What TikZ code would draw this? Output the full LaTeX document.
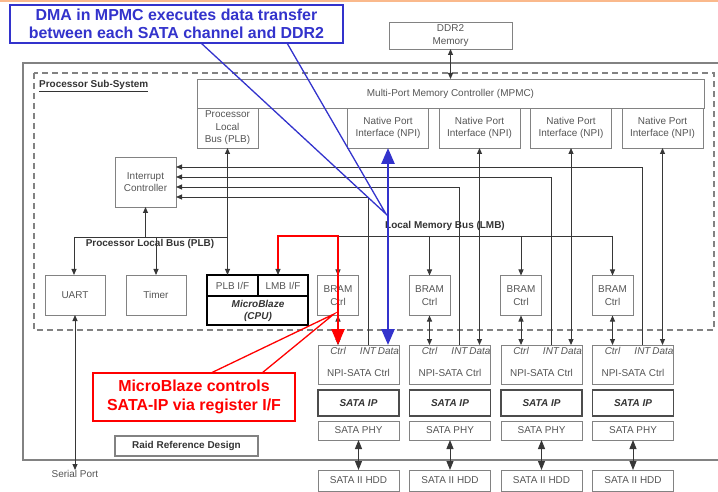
\documentclass[tikz,border=0pt]{standalone}
\usepackage{fontspec}
\setmainfont{Liberation Sans}
\usetikzlibrary{arrows.meta,calc}

\definecolor{boxgray}{RGB}{130,130,130}
\definecolor{txtgray}{RGB}{85,85,85}
\definecolor{linegray}{RGB}{55,55,55}
\definecolor{calloutblue}{RGB}{51,51,204}
\definecolor{calloutred}{RGB}{255,0,0}
\definecolor{toporange}{RGB}{250,185,140}

\tikzset{
  >={Triangle[width=5bp,length=6bp]},
  blk/.style={draw=boxgray, line width=0.9bp, text=txtgray, align=center,
    inner sep=0pt, outer sep=0pt, font=\fontsize{10}{12.5}\selectfont},
  npibox/.style={blk, minimum width=81bp, minimum height=40bp},
  brambox/.style={blk, minimum width=41bp, minimum height=40bp},
  chanbox/.style={blk, minimum width=81bp},
  ipbox/.style={chanbox, draw=black!70, line width=1.6bp, minimum height=26bp,
    text=black!80, font=\fontsize{10}{12}\selectfont\bfseries\itshape},
  tag/.style={text=txtgray, inner sep=0pt, font=\fontsize{10}{12}\selectfont\itshape},
  boldtxt/.style={text=black!80, inner sep=1bp, font=\fontsize{10}{12}\selectfont\bfseries},
  bus/.style={draw=linegray, line width=0.9bp},
  sig/.style={bus, ->},
  bisig/.style={bus, <->},
  hddlink/.style={bus, {Triangle[width=7bp,length=9bp]}-{Triangle[width=7bp,length=9bp]}},
  bluenote/.style={draw=calloutblue, line width=1.6bp, fill=white, text=calloutblue, align=center,
    inner sep=0pt, outer sep=0pt, font=\fontsize{16}{18}\selectfont\bfseries},
  rednote/.style={bluenote, draw=calloutred, text=calloutred, font=\fontsize{16}{19}\selectfont\bfseries},
}

\begin{document}
\begin{tikzpicture}[x=1bp,y=-1bp]
%%%%% START %%%%%
\useasboundingbox (0,0) rectangle (718,492);
\draw[toporange, line width=2bp] (0,1) -- (718,1);

% frames
\draw[boxgray, line width=1.2bp] (718,63) -- (23,63) -- (23,460) -- (718,460);
\draw[boxgray, line width=1.2bp, dash pattern=on 6bp off 4bp] (34,73) rectangle (714,330);
\node[boldtxt, anchor=west] (subsys) at (38,86) {\underline{Processor Sub-System}};
\node[boldtxt, draw=boxgray, line width=1.2bp, minimum width=143bp, minimum height=20bp] (raid) at (186.5,446) {Raid Reference Design};

% memory side
\node[blk, minimum width=123bp, minimum height=27bp] (ddr) at (450.5,35.5) {DDR2\\Memory};
\node[blk, minimum width=507bp, minimum height=29bp] (mpmc) at (450.5,93.5) {Multi-Port Memory Controller (MPMC)};
\node[blk, minimum width=61bp, minimum height=40bp] (plbport) at (227.5,128) {Processor\\Local\\Bus (PLB)};
\node[npibox] (npiA) at (388,128) {Native Port\\Interface (NPI)};
\node[npibox] (npiB) at (479.5,128) {Native Port\\Interface (NPI)};
\node[npibox] (npiC) at (571,128) {Native Port\\Interface (NPI)};
\node[npibox] (npiD) at (662.5,128) {Native Port\\Interface (NPI)};
\draw[bisig] (ddr.south) -- (mpmc.north);

% processor side
\node[blk, minimum width=61bp, minimum height=50bp] (intc) at (145.5,182) {Interrupt\\Controller};
\node[blk, minimum width=60bp, minimum height=40bp] (uart) at (75,295) {UART};
\node[blk, minimum width=60bp, minimum height=40bp] (timer) at (156,295) {Timer};
\node[blk, draw=black, line width=1.5bp, minimum width=101bp, minimum height=50bp] (cpu) at (257.5,300) {};
\node[blk, draw=black, line width=1.2bp, minimum width=51bp, minimum height=21bp] (plbif) at (232.5,285.5) {PLB I/F};
\node[blk, draw=black, line width=1.2bp, minimum width=50bp, minimum height=21bp] (lmbif) at (283,285.5) {LMB I/F};
\node[tag, text=black!80, align=center, font=\fontsize{10}{12.5}\selectfont\bfseries\itshape] (cpulbl) at (258,311) {MicroBlaze\\(CPU)};
\node[tag, font=\fontsize{10}{12}\selectfont, anchor=north] (serial) at (75,470) {Serial Port};

% BRAM controllers
\node[brambox] (bramA) at (338,295.5) {BRAM\\Ctrl};
\node[brambox] (bramB) at (429.5,295.5) {BRAM\\Ctrl};
\node[brambox] (bramC) at (521,295.5) {BRAM\\Ctrl};
\node[brambox] (bramD) at (612.5,295.5) {BRAM\\Ctrl};

% SATA channels
\node[chanbox, minimum height=39bp] (sctlA) at (358.5,364.5) {};
\node[chanbox, minimum height=39bp] (sctlB) at (450,364.5) {};
\node[chanbox, minimum height=39bp] (sctlC) at (541.5,364.5) {};
\node[chanbox, minimum height=39bp] (sctlD) at (633,364.5) {};
\node[tag, font=\fontsize{10}{12}\selectfont] (nsA) at (358.5,373) {NPI-SATA Ctrl};
\node[tag, font=\fontsize{10}{12}\selectfont] (nsB) at (450,373) {NPI-SATA Ctrl};
\node[tag, font=\fontsize{10}{12}\selectfont] (nsC) at (541.5,373) {NPI-SATA Ctrl};
\node[tag, font=\fontsize{10}{12}\selectfont] (nsD) at (633,373) {NPI-SATA Ctrl};
\node[tag] (ctrlA) at (338,351) {Ctrl}; \node[tag] (intA) at (368,351) {INT}; \node[tag] (dataA) at (388.5,351) {Data};
\node[tag] (ctrlB) at (429.5,351) {Ctrl}; \node[tag] (intB) at (459.5,351) {INT}; \node[tag] (dataB) at (480,351) {Data};
\node[tag] (ctrlC) at (521,351) {Ctrl}; \node[tag] (intC) at (551,351) {INT}; \node[tag] (dataC) at (571.5,351) {Data};
\node[tag] (ctrlD) at (612.5,351) {Ctrl}; \node[tag] (intD) at (642.5,351) {INT}; \node[tag] (dataD) at (663,351) {Data};
\node[ipbox] (sipA) at (358.5,403) {SATA IP};
\node[ipbox] (sipB) at (450,403) {SATA IP};
\node[ipbox] (sipC) at (541.5,403) {SATA IP};
\node[ipbox] (sipD) at (633,403) {SATA IP};
\node[chanbox, minimum height=19bp] (phyA) at (358.5,430.5) {SATA PHY};
\node[chanbox, minimum height=19bp] (phyB) at (450,430.5) {SATA PHY};
\node[chanbox, minimum height=19bp] (phyC) at (541.5,430.5) {SATA PHY};
\node[chanbox, minimum height=19bp] (phyD) at (633,430.5) {SATA PHY};
\node[chanbox, minimum height=21bp] (hddA) at (358.5,480.5) {SATA II HDD};
\node[chanbox, minimum height=21bp] (hddB) at (450,480.5) {SATA II HDD};
\node[chanbox, minimum height=21bp] (hddC) at (541.5,480.5) {SATA II HDD};
\node[chanbox, minimum height=21bp] (hddD) at (633,480.5) {SATA II HDD};
\draw[hddlink] (phyA.south) -- (hddA.north);
\draw[hddlink] (phyB.south) -- (hddB.north);
\draw[hddlink] (phyC.south) -- (hddC.north);
\draw[hddlink] (phyD.south) -- (hddD.north);

% processor local bus
\coordinate (plbL) at (74,237);
\draw[bus] (plbL) -- (plbL -| plbport.south);
\draw[bisig] (plbport.south) -- (plbport.south |- plbif.north);
\draw[sig] (plbL) -- (plbL |- uart.north);
\draw[sig] (plbL -| timer.north) -- (timer.north);
\draw[sig] (plbL -| intc.south) -- (intc.south);
\draw[bisig] (uart.south) -- (serial.north);
\node[boldtxt] (plblbl) at (150,244) {Processor Local Bus (PLB)};

% local memory bus
\coordinate (lmbL) at (278,236);
\draw[bus] (lmbL) -- (lmbL -| bramD.north);
\draw[sig] (lmbL) -- (lmbL |- lmbif.north);
\draw[sig] (lmbL -| bramA.north) -- (bramA.north);
\draw[sig] (lmbL -| bramB.north) -- (bramB.north);
\draw[sig] (lmbL -| bramC.north) -- (bramC.north);
\draw[sig] (lmbL -| bramD.north) -- (bramD.north);
\node[boldtxt] (lmblbl) at (445,226) {Local Memory Bus (LMB)};
\draw[bisig] (bramA.south) -- (bramA.south |- sctlA.north);
\draw[bisig] (bramB.south) -- (bramB.south |- sctlB.north);
\draw[bisig] (bramC.south) -- (bramC.south |- sctlC.north);
\draw[bisig] (bramD.south) -- (bramD.south |- sctlD.north);

% data ports
\draw[bisig] (npiB.south) -- (npiB.south |- sctlB.north);
\draw[bisig] (npiC.south) -- (npiC.south |- sctlC.north);
\draw[bisig] (npiD.south) -- (npiD.south |- sctlD.north);

% interrupt lines
\coordinate (irqA) at (368,197);
\coordinate (irqB) at (459.5,187);
\coordinate (irqC) at (551,177);
\coordinate (irqD) at (642.5,167);
\draw[sig] (irqA |- sctlA.north) -- (irqA) -- (irqA -| intc.east);
\draw[sig] (irqB |- sctlB.north) -- (irqB) -- (irqB -| intc.east);
\draw[sig] (irqC |- sctlC.north) -- (irqC) -- (irqC -| intc.east);
\draw[sig] (irqD |- sctlD.north) -- (irqD) -- (irqD -| intc.east);

% callouts
\node[bluenote, minimum width=333bp, minimum height=38bp] (dmanote) at (176.5,24) {DMA in MPMC executes data transfer\\between each SATA channel and DDR2};
\coordinate (dmatip) at (386,214);
\draw[calloutblue, line width=1.3bp] ($(dmanote.south west)+(191,0)$) -- (dmatip) -- ($(dmanote.south west)+(277,0)$);
\draw[calloutblue, line width=2.6bp, {Triangle[width=13bp,length=16bp]}-{Triangle[width=13bp,length=16bp]}] (npiA.south) -- (npiA.south |- sctlA.north);

\node[rednote, minimum width=202bp, minimum height=48bp] (regnote) at (194,397) {MicroBlaze controls\\SATA-IP via register I/F};
\coordinate (regtip) at (334,314);
\draw[calloutred, line width=1.3bp] ($(regnote.north west)+(118,0)$) -- (regtip) -- ($(regnote.north west)+(169,0)$);
\draw[calloutred, line width=2.6bp, -{Triangle[width=13bp,length=16bp]}] ($(lmbL |- lmbif.north)+(0,-6)$) -- (lmbL) -- (lmbL -| bramA.north) -- (bramA.north |- sctlA.north);
%%%%% END %%%%%
\end{tikzpicture}
\end{document}
